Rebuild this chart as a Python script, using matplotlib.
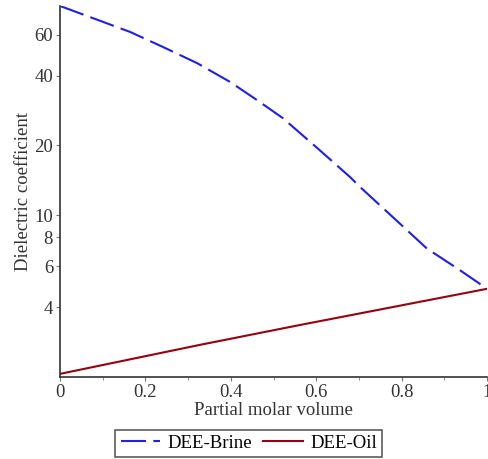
import matplotlib
matplotlib.use('Agg')
import matplotlib.pyplot as plt
from matplotlib.ticker import FixedLocator, NullLocator, MultipleLocator

plt.rcParams['font.family'] = ['Liberation Serif', 'DejaVu Serif']

# values
brine_x = [0.0, 0.164, 0.241, 0.321, 0.398, 0.461, 0.522, 0.602, 0.679, 0.703, 0.780, 0.859, 0.937, 1.0]
brine_y = [80, 61.8, 53.2, 45.3, 37.6, 31.4, 26.2, 19.5, 14.6, 13.2, 9.77, 7.17, 5.77, 4.8]
oil_x = [0.0, 0.328, 0.562, 1.0]
oil_y = [2.06, 2.75, 3.35, 4.8]
yticks = [4, 6, 8, 10, 20, 40, 60]
xticks = [0, 0.2, 0.4, 0.6, 0.8, 1]

fs = 13.5

fig = plt.figure(figsize=(4.88, 4.59), dpi=100)
ax = fig.add_axes([0.123, 0.179, 0.875, 0.808])

ax.plot(brine_x, brine_y, color='#1f1fe6', lw=1.5, linestyle=(0, (12, 3.5)), label='DEE-Brine')
ax.plot(oil_x, oil_y, color='#960010', lw=1.5, label='DEE-Oil')

ax.set_yscale('log')
ax.set_xlim(0, 1)
ax.set_ylim(2.0, 80)
ax.yaxis.set_major_locator(FixedLocator(yticks))
ax.yaxis.set_minor_locator(NullLocator())
ax.set_yticklabels([str(t) for t in yticks])
ax.set_xticks(xticks)
ax.set_xticklabels(['0', '0.2', '0.4', '0.6', '0.8', '1'])
ax.xaxis.set_minor_locator(MultipleLocator(0.1))

for s in ['top', 'right']:
    ax.spines[s].set_visible(False)
for s in ['left', 'bottom']:
    ax.spines[s].set_color('#333333')
    ax.spines[s].set_linewidth(1.2)

ax.tick_params(axis='both', which='major', labelsize=fs, length=3, pad=2,
               color='#777777', labelcolor='#333333')
ax.tick_params(axis='x', which='minor', length=2, color='#777777')

ax.set_xlabel('Partial molar volume', fontsize=fs, color='#333333', labelpad=1)
ax.set_ylabel('Dielectric coefficient', fontsize=fs, color='#333333', labelpad=2)

leg = ax.legend(loc='upper center', bbox_to_anchor=(0.442, -0.142), ncol=2, fontsize=fs,
                frameon=True, fancybox=False, edgecolor='#333333', handlelength=2.1,
                handletextpad=0.4, columnspacing=0.6, borderpad=0.28, borderaxespad=0)
leg.get_frame().set_linewidth(1.2)

fig.savefig('out.png', dpi=100)
